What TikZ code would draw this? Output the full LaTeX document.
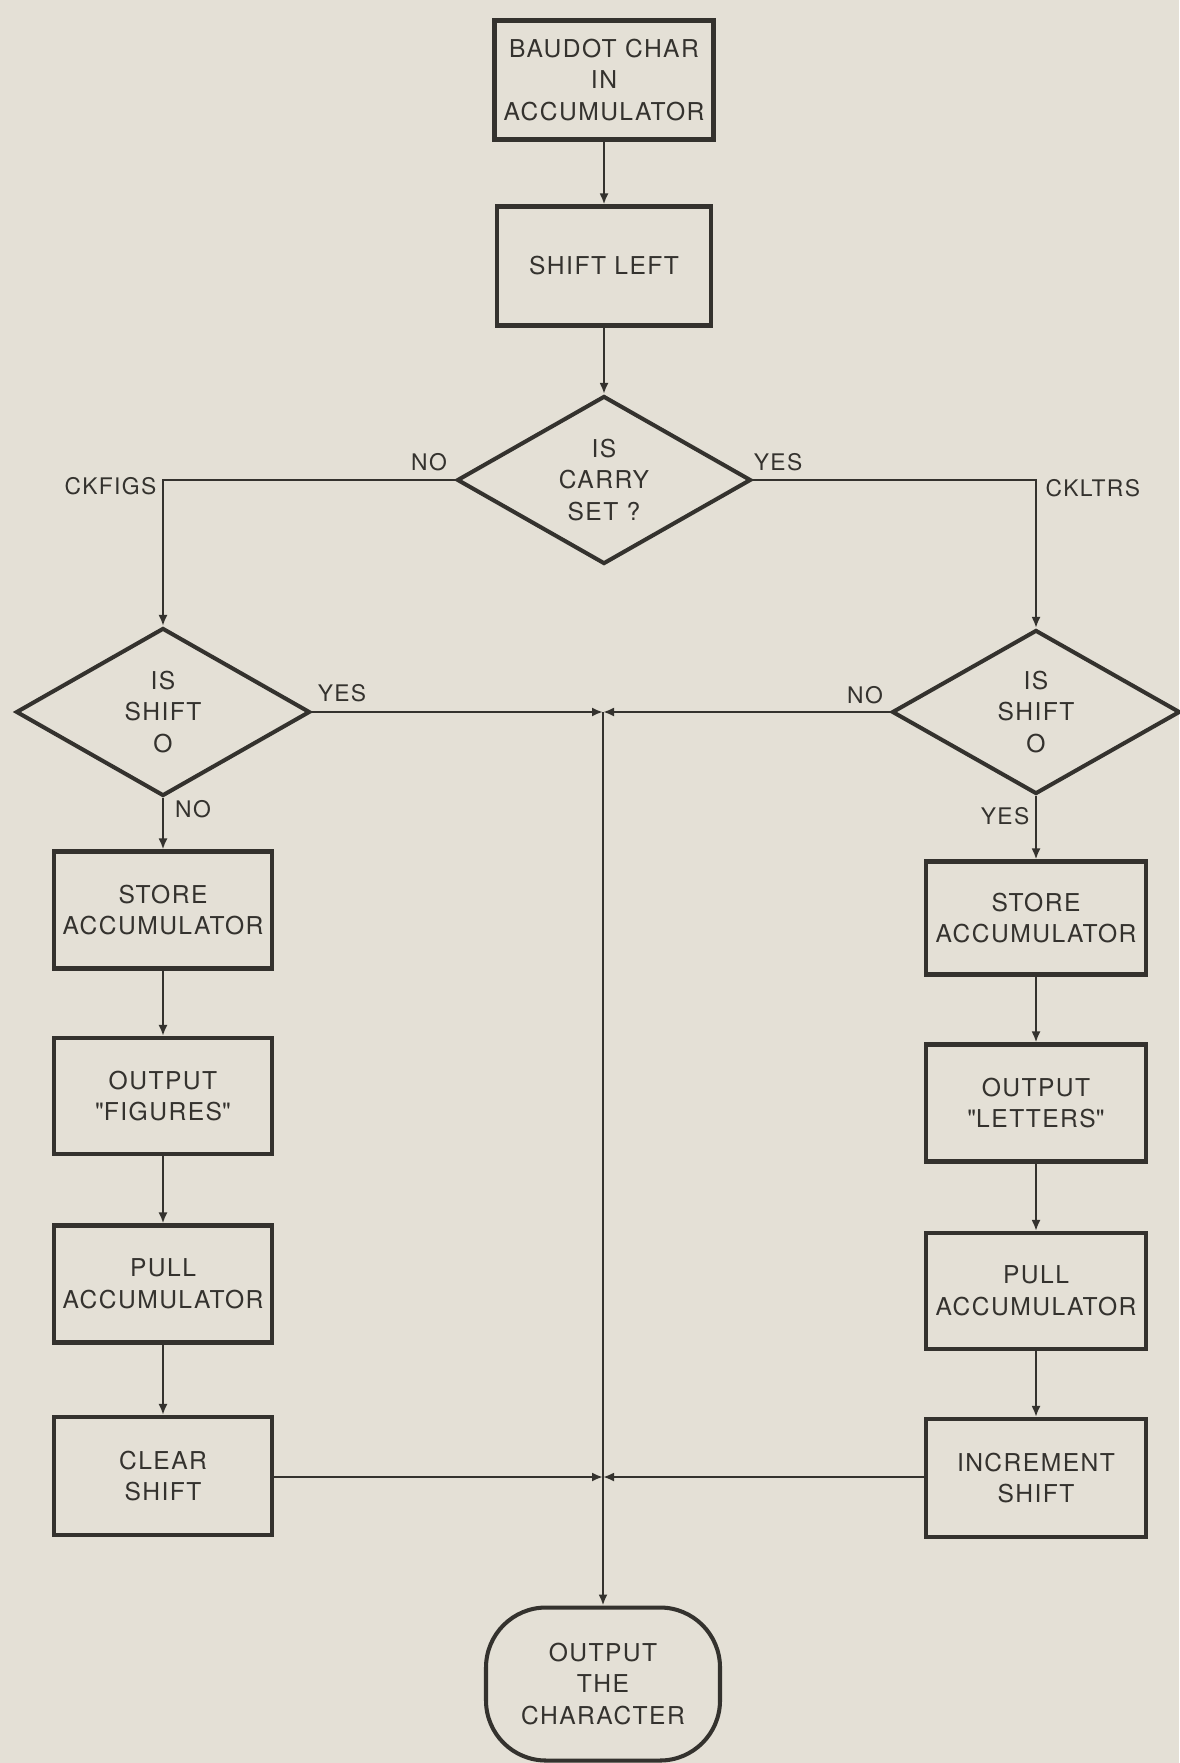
\documentclass[tikz,border=0pt]{standalone}
\usepackage{fontspec}
\setmainfont{TeX Gyre Heros}[LetterSpace=6]
\usetikzlibrary{shapes.geometric,arrows.meta}
\definecolor{ink}{RGB}{52,50,46}
\definecolor{paper}{RGB}{228,224,214}
\begin{document}
\begin{tikzpicture}[x=0.1mm,y=-0.1mm,
  every node/.style={text=ink},
  procbox/.style={draw=ink,line width=1.15pt,rectangle,inner sep=0pt,align=center,
     font=\fontsize{7}{9}\selectfont},
  decbox/.style={draw=ink,line width=1.15pt,diamond,aspect=1.75,inner sep=0pt,align=center,
     font=\fontsize{7}{9}\selectfont},
  termbox/.style={draw=ink,line width=1.15pt,rectangle,rounded corners=6mm,inner sep=0pt,align=center,
     font=\fontsize{7}{9}\selectfont},
  lbl/.style={font=\fontsize{6.5}{8}\selectfont,inner sep=0pt},
  conn/.style={draw=ink,line width=0.7pt},
  arr/.style={conn,-{Latex[length=1.1mm,width=0.9mm]}}
]
\fill[paper] (0,0) rectangle (1179,1763);
\useasboundingbox (0,0) rectangle (1179,1763);

% main column
\node[procbox,minimum width=21.9mm,minimum height=11.9mm] (baudot) at (604,80) {BAUDOT CHAR\\IN\\ACCUMULATOR};
\node[procbox,minimum width=21.4mm,minimum height=11.9mm] (shl) at (604,266) {SHIFT LEFT};
\node[decbox,minimum width=29.4mm,minimum height=16.8mm] (carry) at (604,480) {IS\\CARRY\\SET ?};

% left column
\node[decbox,minimum width=29.4mm,minimum height=16.8mm] (ld) at (163,712) {IS\\SHIFT\\O};
\node[procbox,minimum width=21.8mm,minimum height=11.7mm] (lstore) at (163,910) {STORE\\ACCUMULATOR};
\node[procbox,minimum width=21.8mm,minimum height=11.6mm] (lfig) at (163,1096) {OUTPUT\\\textquotedbl FIGURES\textquotedbl};
\node[procbox,minimum width=21.8mm,minimum height=11.7mm] (lpull) at (163,1284) {PULL\\ACCUMULATOR};
\node[procbox,minimum width=21.8mm,minimum height=11.8mm] (lclear) at (163,1476) {CLEAR\\SHIFT};

% right column
\node[decbox,minimum width=28.8mm,minimum height=16.4mm] (rd) at (1036,712) {IS\\SHIFT\\O};
\node[procbox,minimum width=22.0mm,minimum height=11.3mm] (rstore) at (1036,918) {STORE\\ACCUMULATOR};
\node[procbox,minimum width=22.0mm,minimum height=11.7mm] (rlet) at (1036,1103) {OUTPUT\\\textquotedbl LETTERS\textquotedbl};
\node[procbox,minimum width=22.0mm,minimum height=11.6mm] (rpull) at (1036,1291) {PULL\\ACCUMULATOR};
\node[procbox,minimum width=22.0mm,minimum height=11.8mm] (rinc) at (1036,1478) {INCREMENT\\SHIFT};

% terminal
\node[termbox,minimum width=23.4mm,minimum height=15.3mm] (term) at (603,1684) {OUTPUT\\THE\\CHARACTER};

% junction coordinates
\coordinate (jt) at (603,712);
\coordinate (jb) at (603,1477);

% connectors
\draw[arr] (baudot.south) -- (shl.north);
\draw[arr] (shl.south) -- (carry.north);
\draw[arr] (carry.west) -| (ld.north);
\draw[arr] (carry.east) -| (rd.north);
\draw[arr] (ld.south) -- (lstore.north);
\draw[arr] (lstore.south) -- (lfig.north);
\draw[arr] (lfig.south) -- (lpull.north);
\draw[arr] (lpull.south) -- (lclear.north);
\draw[arr] (rd.south) -- (rstore.north);
\draw[arr] (rstore.south) -- (rlet.north);
\draw[arr] (rlet.south) -- (rpull.north);
\draw[arr] (rpull.south) -- (rinc.north);
\draw[arr] (ld.east) -- (jt);
\draw[arr] (rd.west) -- (jt);
\draw[arr] (lclear.east |- jb) -- (jb);
\draw[arr] (rinc.west |- jb) -- (jb);
\draw[arr] (jt) -- (term.north);

% labels
\node[lbl] (l1) at (429,462) {NO};
\node[lbl] (l2) at (778,462) {YES};
\node[lbl,anchor=east] (l3) at (157,486) {CKFIGS};
\node[lbl,anchor=west] (l4) at (1045,488) {CKLTRS};
\node[lbl] (l5) at (342,693) {YES};
\node[lbl] (l6) at (193,809) {NO};
\node[lbl] (l7) at (865,695) {NO};
\node[lbl] (l8) at (1005,816) {YES};
\end{tikzpicture}
\end{document}
